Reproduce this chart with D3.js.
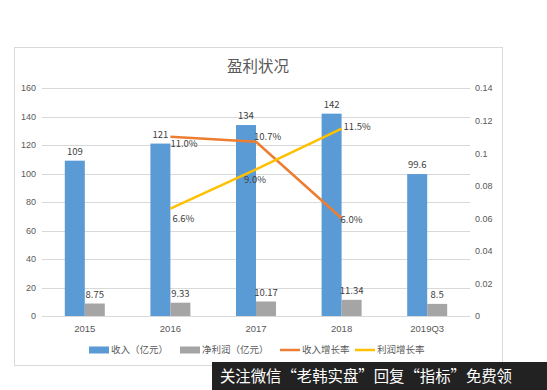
<!DOCTYPE html>
<html>
<head>
<meta charset="utf-8">
<script src="https://cdn.jsdelivr.net/npm/d3@7"></script>
<style>
  body { margin: 0; background: #fff; }
  svg { display: block; font-family: "Noto Sans CJK SC", "Microsoft YaHei", sans-serif; }
</style>
</head>
<body>
<svg id="vis" width="547" height="390"></svg>
<script>
const years = ["2015", "2016", "2017", "2018", "2019Q3"];
const revenue = [109, 121, 134, 142, 99.6];
const profit = [8.75, 9.33, 10.17, 11.34, 8.5];
const revenueGrowth = [null, 0.110, 0.107, 0.060, null];
const profitGrowth = [null, 0.066, 0.090, 0.115, null];
const leftTicks = [0, 20, 40, 60, 80, 100, 120, 140, 160];
const rightTicks = [0, 0.02, 0.04, 0.06, 0.08, 0.1, 0.12, 0.14];
const legendNames = ["收入（亿元）", "净利润（亿元）", "收入增长率", "利润增长率"];
const title = "盈利状况";
const watermark = "关注微信“老韩实盘”回复“指标”免费领";

const blue = "#5B9BD5", gray = "#A5A5A5", orange = "#ED7D31", yellow = "#FFC000";
const textColor = "#595959";

const svg = d3.select("#vis");

// chart frame
svg.append("rect")
    .attr("x", 14.5).attr("y", 47.5)
    .attr("width", 488).attr("height", 318)
    .attr("fill", "#fff")
    .attr("stroke", "#D9D9D9");

svg.append("text")
    .attr("x", 258).attr("y", 72)
    .attr("text-anchor", "middle")
    .attr("font-size", 15.5)
    .attr("fill", textColor)
    .text(title);

const x = d3.scaleBand().domain(years).range([42, 470]);
const yL = d3.scaleLinear().domain([0, 160]).range([316, 88]);
const yR = d3.scaleLinear().domain([0, 0.14]).range([316, 88]);

// gridlines
svg.append("g").selectAll("line")
    .data(leftTicks)
    .enter().append("line")
    .attr("x1", 42).attr("x2", 470)
    .attr("y1", d => Math.round(yL(d)) + 0.5)
    .attr("y2", d => Math.round(yL(d)) + 0.5)
    .attr("stroke", "#D9D9D9");

// left axis
svg.append("g")
    .attr("transform", "translate(36,0)")
    .call(d3.axisLeft(yL).tickValues(leftTicks).tickSize(0).tickPadding(0))
    .call(g => g.select(".domain").remove())
    .call(g => g.selectAll("text").attr("fill", textColor).attr("font-size", 9));

// right axis
svg.append("g")
    .attr("transform", "translate(475,0)")
    .call(d3.axisRight(yR).tickValues(rightTicks).tickSize(0).tickPadding(0)
        .tickFormat(d => d === 0 ? "0" : String(+d.toFixed(2))))
    .call(g => g.select(".domain").remove())
    .call(g => g.selectAll("text").attr("fill", textColor).attr("font-size", 9));

// bottom axis labels
svg.append("g")
    .attr("transform", "translate(0,316)")
    .call(d3.axisBottom(x).tickSize(0).tickPadding(9))
    .call(g => g.select(".domain").remove())
    .call(g => g.selectAll("text").attr("fill", textColor).attr("font-size", 9.5));

const barW = 20;
const center = d => x(d) + x.bandwidth() / 2;

// bars
const bars = svg.append("g");
bars.selectAll(".rev")
    .data(revenue)
    .enter().append("rect")
    .attr("x", (d, i) => center(years[i]) - barW)
    .attr("y", d => yL(d))
    .attr("width", barW)
    .attr("height", d => yL(0) - yL(d))
    .attr("fill", blue);

bars.selectAll(".pro")
    .data(profit)
    .enter().append("rect")
    .attr("x", (d, i) => center(years[i]))
    .attr("y", d => yL(d))
    .attr("width", barW)
    .attr("height", d => yL(0) - yL(d))
    .attr("fill", gray);

// bar labels
bars.selectAll(".revl")
    .data(revenue)
    .enter().append("text")
    .attr("x", (d, i) => center(years[i]) - barW / 2)
    .attr("y", d => yL(d) - 6)
    .attr("text-anchor", "middle")
    .attr("font-size", 9.5)
    .attr("fill", "#404040")
    .text(d => d);

bars.selectAll(".prol")
    .data(profit)
    .enter().append("text")
    .attr("x", (d, i) => center(years[i]) + barW / 2)
    .attr("y", d => yL(d) - 6)
    .attr("text-anchor", "middle")
    .attr("font-size", 9.5)
    .attr("fill", "#404040")
    .text(d => d);

// growth lines
const line = d3.line()
    .defined(d => d.v != null)
    .x(d => center(d.year))
    .y(d => yR(d.v));

function drawLine(values, color, offsets) {
    let pts = values.map((v, i) => ({ year: years[i], v: v }));
    svg.append("path")
        .datum(pts)
        .attr("d", line)
        .attr("fill", "none")
        .attr("stroke", color)
        .attr("stroke-width", 2.5)
        .attr("stroke-linejoin", "round");

    svg.append("g").selectAll("text")
        .data(pts.filter(d => d.v != null))
        .enter().append("text")
        .attr("x", (d, i) => center(d.year) + offsets[i][0])
        .attr("y", (d, i) => yR(d.v) + offsets[i][1])
        .attr("dy", "0.35em")
        .attr("font-size", 9.5)
        .attr("fill", "#404040")
        .text(d => (d.v * 100).toFixed(1) + "%");
}

drawLine(revenueGrowth, orange, [[0, 7], [-2, -5], [-1, 1]]);
drawLine(profitGrowth, yellow, [[2, 10], [-12, 10], [2, -2]]);

// legend
const legend = svg.append("g").attr("transform", "translate(0,350)");
const legendX = [89, 180, 280, 355];
const legendColors = [blue, gray, orange, yellow];
legendNames.forEach((name, i) => {
    if (i < 2) {
        legend.append("rect")
            .attr("x", legendX[i]).attr("y", -3.5)
            .attr("width", 20).attr("height", 7)
            .attr("fill", legendColors[i]);
    } else {
        legend.append("line")
            .attr("x1", legendX[i]).attr("x2", legendX[i] + 20)
            .attr("stroke", legendColors[i])
            .attr("stroke-width", 2.5);
    }
    legend.append("text")
        .attr("x", legendX[i] + 22)
        .attr("dy", "0.35em")
        .attr("font-size", 9.5)
        .attr("fill", textColor)
        .text(name);
});

// watermark
svg.append("rect")
    .attr("x", 212).attr("y", 362)
    .attr("width", 335).attr("height", 28)
    .attr("fill", "#222");
svg.append("text")
    .attr("x", 220).attr("y", 382)
    .attr("font-size", 15.5)
    .attr("textLength", 292)
    .attr("lengthAdjust", "spacingAndGlyphs")
    .attr("fill", "#fff")
    .text(watermark);
</script>
</body>
</html>
